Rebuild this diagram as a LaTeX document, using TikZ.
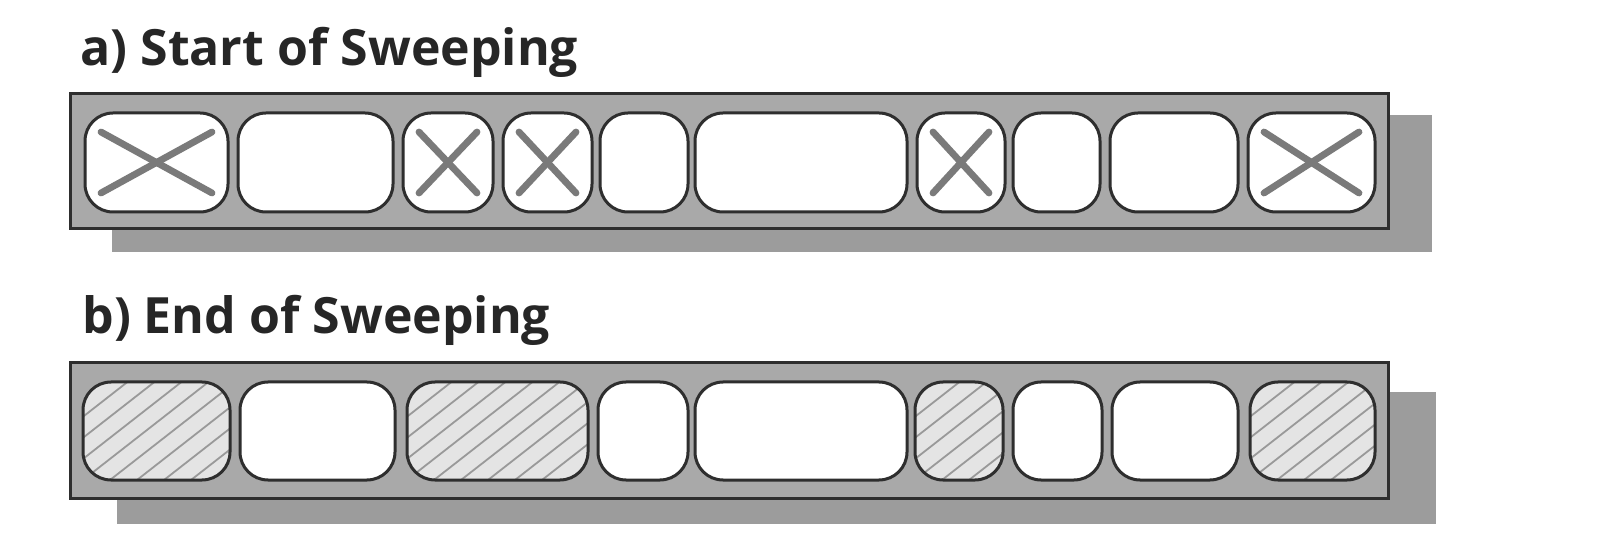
\documentclass[tikz,border=0pt]{standalone}
\usepackage{fontspec}
\setmainfont{Open Sans}
\usetikzlibrary{fit}
\definecolor{barfill}{HTML}{A9A9A9}
\definecolor{shadowgray}{HTML}{9C9C9C}
\definecolor{hatchfill}{HTML}{E4E4E4}
\definecolor{hatchgray}{HTML}{999999}
\definecolor{xgray}{HTML}{7A7A7A}
\definecolor{edgegray}{HTML}{2E2E2E}
\tikzset{
  shadowbox/.style={fill=shadowgray, draw=none, inner sep=0pt, outer sep=0pt},
  bar/.style={fill=barfill, draw=edgegray, line width=1.5pt, inner sep=0pt, outer sep=0pt},
  cell/.style={fill=white, draw=edgegray, line width=1.5pt, rounded corners=14pt, inner sep=0pt, outer sep=0pt},
  xcell/.style={cell, path picture={
      \draw[xline] ([shift={(8pt,-9.5pt)}]path picture bounding box.north west) -- ([shift={(-8pt,9.5pt)}]path picture bounding box.south east);
      \draw[xline] ([shift={(8pt,9.5pt)}]path picture bounding box.south west) -- ([shift={(-8pt,-9.5pt)}]path picture bounding box.north east);
  }},
  hcell/.style={cell, fill=hatchfill, path picture={
      \foreach \k in {-6,...,9}
        \draw[hatchline] ([xshift=\k*13.5pt]path picture bounding box.south west) -- ++(80pt,62.5pt);
  }},
  xline/.style={draw=xgray, line width=3.4pt, line cap=round},
  hatchline/.style={draw=hatchgray, line width=0.9pt},
  title/.style={font=\fontsize{25}{29}\selectfont\bfseries, anchor=base west, inner sep=0pt, text=black!85}
}
\begin{document}
\begin{tikzpicture}[x=0.5pt, y=-0.5pt]
\useasboundingbox[fill=white] (0,0) rectangle (1600,550);
% titles
\node[title] (ta) at (80,66) {a) Start of Sweeping};
\node[title] (tb) at (82,334) {b) End of Sweeping};
% top heap
\node[shadowbox, fit={(112,115) (1432,252)}] (sa) {};
\node[bar, fit={(70,94) (1388,229)}] (ba) {};
\node[xcell, fit={(85,113) (228,212)}] (a1) {};
\node[cell,  fit={(238,113) (393,212)}] (a2) {};
\node[xcell, fit={(403,113) (493,212)}] (a3) {};
\node[xcell, fit={(503,113) (592,212)}] (a4) {};
\node[cell,  fit={(600,113) (688,212)}] (a5) {};
\node[cell,  fit={(695,113) (907,212)}] (a6) {};
\node[xcell, fit={(917,113) (1005,212)}] (a7) {};
\node[cell,  fit={(1013,113) (1100,212)}] (a8) {};
\node[cell,  fit={(1110,113) (1238,212)}] (a9) {};
\node[xcell, fit={(1248,113) (1375,212)}] (a10) {};
% bottom heap
\node[shadowbox, fit={(117,392) (1436,524)}] (sb) {};
\node[bar, fit={(70,363) (1388,498)}] (bb) {};
\node[hcell, fit={(83,382) (230,480)}] (b1) {};
\node[cell,  fit={(240,382) (395,480)}] (b2) {};
\node[hcell, fit={(407,382) (588,480)}] (b3) {};
\node[cell,  fit={(598,382) (688,480)}] (b4) {};
\node[cell,  fit={(695,382) (907,480)}] (b5) {};
\node[hcell, fit={(915,382) (1003,480)}] (b6) {};
\node[cell,  fit={(1013,382) (1102,480)}] (b7) {};
\node[cell,  fit={(1112,382) (1238,480)}] (b8) {};
\node[hcell, fit={(1250,382) (1375,480)}] (b9) {};
\end{tikzpicture}
\end{document}
